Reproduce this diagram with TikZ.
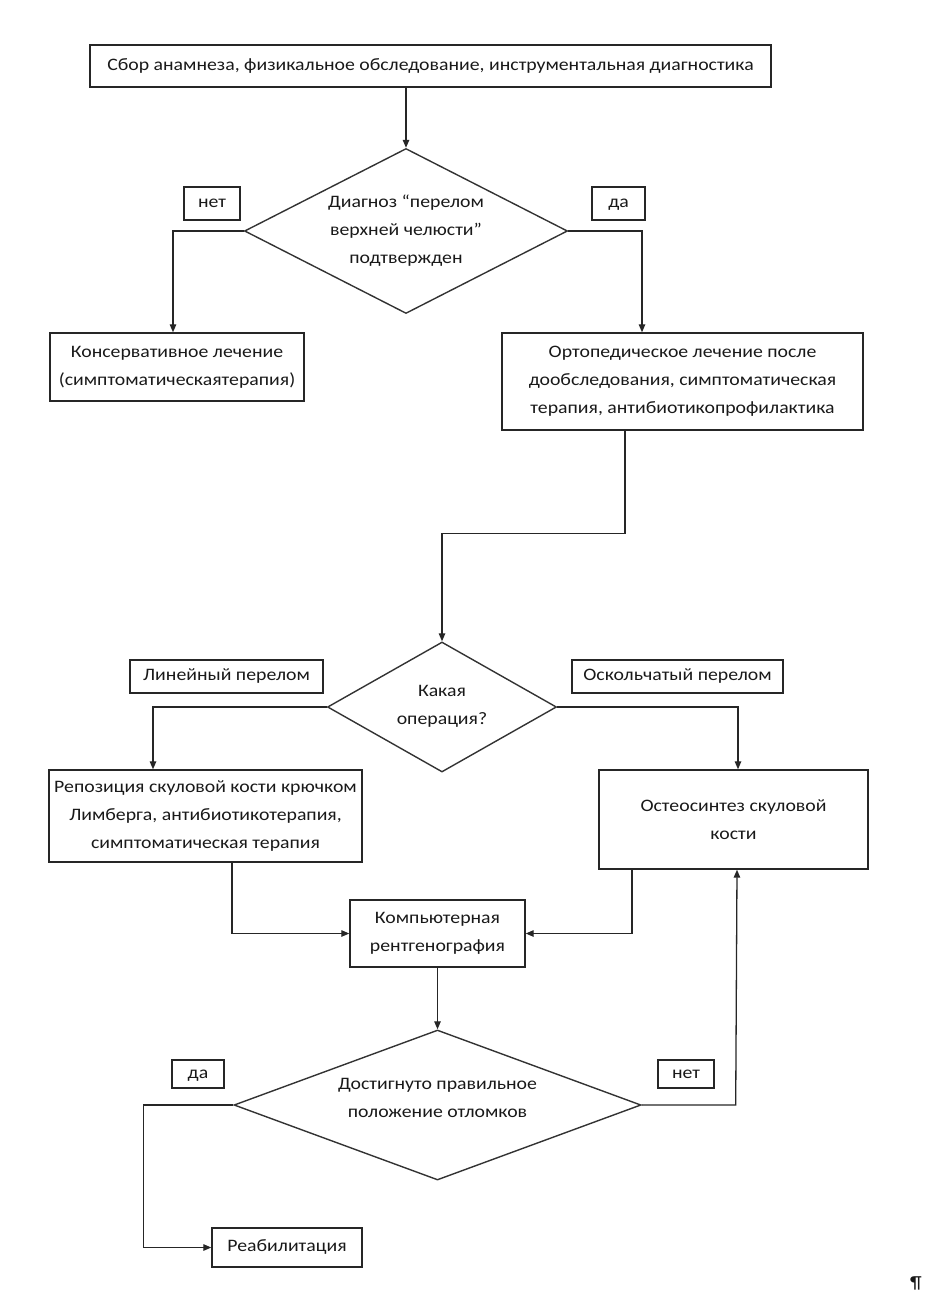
\documentclass[tikz,border=0pt]{standalone}
\usepackage{fontspec}
\setmainfont[FakeStretch=1.13]{Carlito}
\usetikzlibrary{shapes.geometric,arrows.meta,calc}
\begin{document}
\begin{tikzpicture}[x=1pt,y=-1pt,
  every node/.style={font=\fontsize{17.5}{28}\selectfont, text=black!90},
  bx/.style={draw=black!85, line width=1.4pt, rectangle, inner sep=0pt, align=center},
  dia/.style={draw=black!80, line width=1.4pt, diamond, inner sep=0pt},
  lbl/.style={draw=black!85, line width=1.4pt, rectangle, inner sep=0pt, text height=8.2pt, text depth=0pt},
  arr/.style={draw=black!85, line width=1.3pt, -{Triangle[length=8pt,width=6.5pt]}},
  ln/.style={draw=black!85, line width=1.3pt}]
\useasboundingbox (0,0) rectangle (930,1303);

% boxes
\node[bx, minimum width=681pt, minimum height=42pt] (top) at (430.5,66) {Сбор анамнеза, физикальное обследование, инструментальная диагностика};

\node[dia, minimum width=323pt, minimum height=165pt] (d1) at (406,231) {};
\node[align=center] (d1t) at (406,231) {Диагноз “перелом\\верхней челюсти”\\подтвержден};
\node[lbl, minimum width=56pt, minimum height=33pt] (no1) at (212,203.5) {нет};
\node[lbl, minimum width=53pt, minimum height=33pt] (yes1) at (618.5,203.5) {да};

\node[bx, minimum width=254pt, minimum height=68pt] (kons) at (177,367) {Консервативное лечение\\(симптоматическаятерапия)};
\node[bx, minimum width=361pt, minimum height=97pt] (orto) at (682.5,381.5) {Ортопедическое лечение после\\дообследования, симптоматическая\\терапия, антибиотикопрофилактика};

\node[dia, minimum width=229pt, minimum height=130pt] (d2) at (442,707) {};
\node[align=center] (d2t) at (442,706) {Какая\\операция?};
\node[lbl, minimum width=193pt, minimum height=33pt] (lin) at (226.5,676.5) {Линейный перелом};
\node[lbl, minimum width=211pt, minimum height=33pt] (osk) at (677.5,676.5) {Оскольчатый перелом};

\node[bx, minimum width=313pt, minimum height=92pt] (repo) at (205.5,816) {Репозиция скуловой кости крючком\\Лимберга, антибиотикотерапия,\\симптоматическая терапия};
\node[bx, minimum width=269pt, minimum height=99pt] (osteo) at (733.5,819.5) {Остеосинтез скуловой\\кости};

\node[bx, minimum width=175pt, minimum height=67pt] (comp) at (437.5,933.5) {Компьютерная\\рентгенография};

\node[dia, minimum width=407pt, minimum height=150pt] (d3) at (437.5,1105) {};
\node[align=center] (d3t) at (437.5,1098) {Достигнуто правильное\\положение отломков};
\node[lbl, minimum width=52pt, minimum height=28pt] (yes3) at (198,1074) {да};
\node[lbl, minimum width=56pt, minimum height=28pt] (no3) at (686,1074) {нет};

\node[lbl, minimum width=150pt, minimum height=39pt] (reab) at (287,1247.5) {Реабилитация};

\node (pil) at (916,1283) {¶};

% connectors
\draw[arr] (d1.north |- top.south) -- (d1.north);
\draw[arr] (d1.west) -| ([xshift=-4pt]kons.north);
\draw[arr] (d1.east) -| ([xshift=-40.5pt]orto.north);
\coordinate (c1) at ($([xshift=-57.5pt]orto.south)+(0,103)$);
\draw[arr] ([xshift=-57.5pt]orto.south) -- (c1) -| (d2.north);
\draw[arr] (d2.west) -| ([xshift=-52.5pt]repo.north);
\draw[arr] (d2.east) -| ([xshift=4.5pt]osteo.north);
\draw[arr] ([xshift=26.5pt]repo.south) |- (comp.west);
\draw[arr] ([xshift=-101.5pt]osteo.south) |- (comp.east);
\draw[arr] (comp.south) -- (d3.north);
\coordinate (c2) at ($(d3.west)+(-90,0)$);
\draw[arr] (d3.west) -- (c2) |- (reab.west);
\coordinate (c3) at ($(d3.east)+(94,0)$);
\draw[arr] (d3.east) -- (c3) -- ([xshift=3.5pt]osteo.south);
\end{tikzpicture}
\end{document}
